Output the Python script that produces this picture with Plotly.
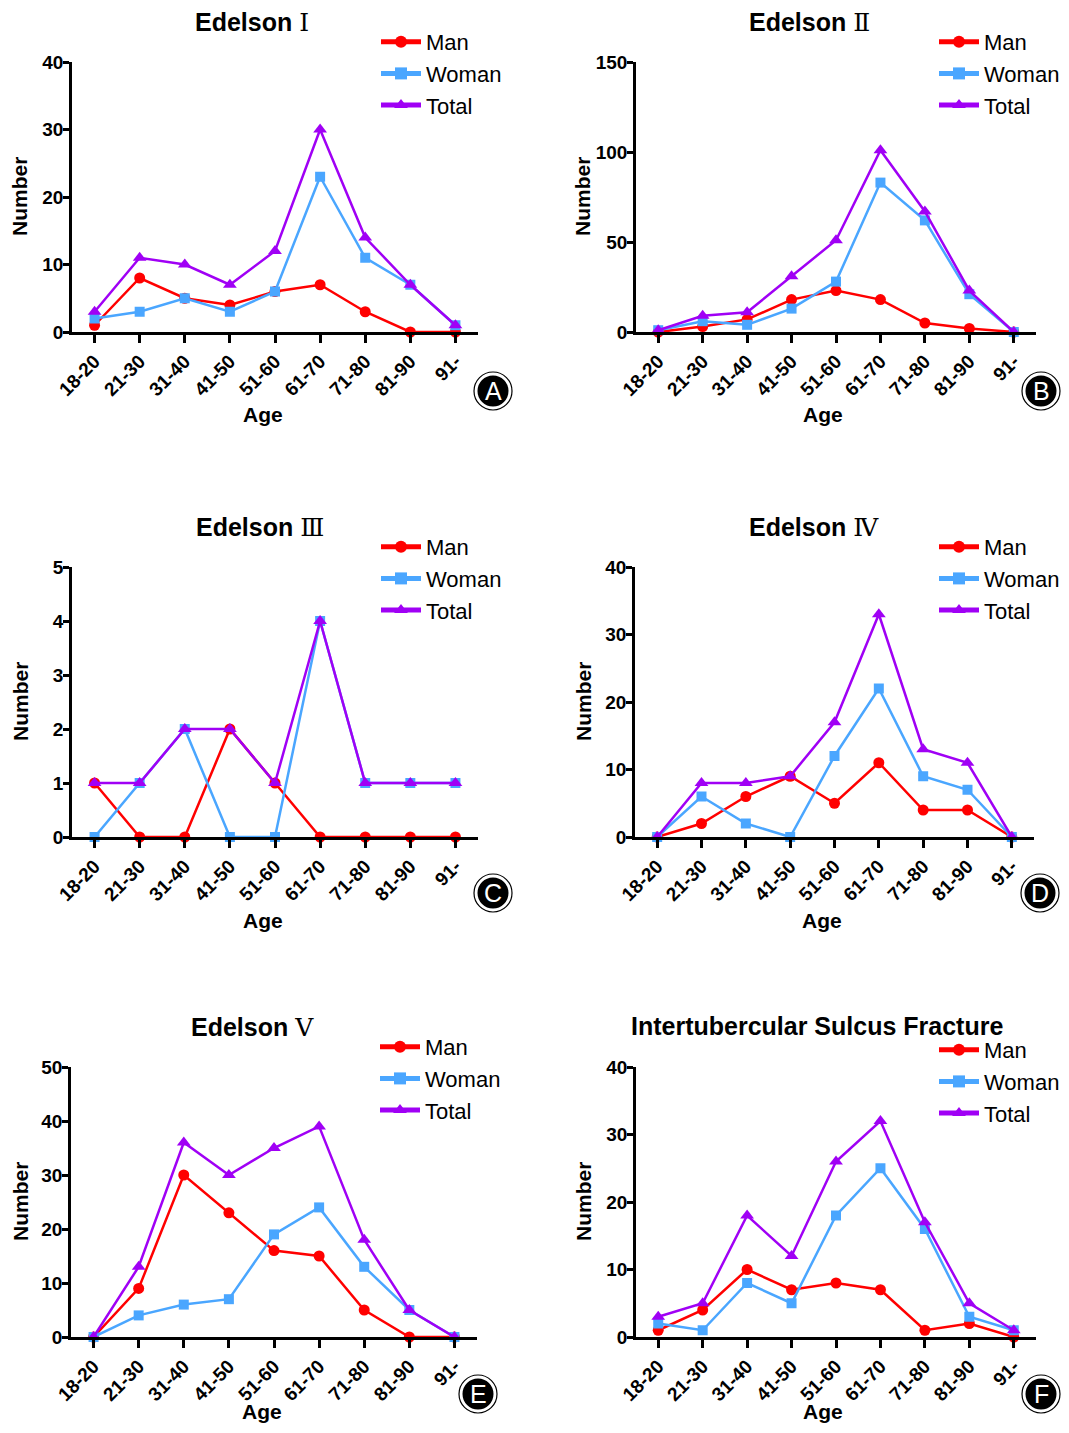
import plotly.graph_objects as go

OFF = 8  # page body margin in the rendered page
W, H = 1069 - 2 * OFF, 1433 - 2 * OFF

ages = ["18-20", "21-30", "31-40", "41-50", "51-60", "61-70", "71-80", "81-90", "91-"]

# Panel A: Edelson I
a_man = [1, 8, 5, 4, 6, 7, 3, 0, 0]
a_woman = [2, 3, 5, 3, 6, 23, 11, 7, 1]
a_total = [3, 11, 10, 7, 12, 30, 14, 7, 1]
# Panel B: Edelson II
b_man = [0, 3, 7, 18, 23, 18, 5, 2, 0]
b_woman = [1, 6, 4, 13, 28, 83, 62, 21, 0]
b_total = [1, 9, 11, 31, 51, 101, 67, 23, 0]
# Panel C: Edelson III
c_man = [1, 0, 0, 2, 1, 0, 0, 0, 0]
c_woman = [0, 1, 2, 0, 0, 4, 1, 1, 1]
c_total = [1, 1, 2, 2, 1, 4, 1, 1, 1]
# Panel D: Edelson IV
d_man = [0, 2, 6, 9, 5, 11, 4, 4, 0]
d_woman = [0, 6, 2, 0, 12, 22, 9, 7, 0]
d_total = [0, 8, 8, 9, 17, 33, 13, 11, 0]
# Panel E: Edelson V
e_man = [0, 9, 30, 23, 16, 15, 5, 0, 0]
e_woman = [0, 4, 6, 7, 19, 24, 13, 5, 0]
e_total = [0, 13, 36, 30, 35, 39, 18, 5, 0]
# Panel F: Intertubercular Sulcus Fracture
f_man = [1, 4, 10, 7, 8, 7, 1, 2, 0]
f_woman = [2, 1, 8, 5, 18, 25, 16, 3, 1]
f_total = [3, 5, 18, 12, 26, 32, 17, 5, 1]

numeral_style = "font-family:'DejaVu Serif','Liberation Serif',serif;font-weight:normal"
numerals = ["Ⅰ", "Ⅱ", "Ⅲ", "Ⅳ", "Ⅴ"]
titles = ["<b>Edelson</b> <span style=\"%s\">%s</span>" % (numeral_style, n) for n in numerals]
titles.append("<b>Intertubercular Sulcus Fracture</b>")
ymax = [40, 150, 5, 40, 50, 40]
ydtick = [10, 50, 1, 10, 10, 10]
letters = ["A", "B", "C", "D", "E", "F"]
panels = [
    (a_man, a_woman, a_total),
    (b_man, b_woman, b_total),
    (c_man, c_woman, c_total),
    (d_man, d_woman, d_total),
    (e_man, e_woman, e_total),
    (f_man, f_woman, f_total),
]

# layout geometry in screen pixels (x0, x1, ytop, ybottom)
boxes = [
    (72, 478, 62, 332),
    (636, 1036, 62, 332),
    (72, 478, 567, 837),
    (635, 1034, 567, 837),
    (71, 477, 1067, 1337),
    (636, 1036, 1067, 1337),
]
title_pos = [(252, 22), (809, 22), (260, 527), (814, 527), (252, 1027), (817, 1026)]
age_pos = [(263, 414), (823, 414), (263, 920), (822, 920), (262, 1411), (823, 1411)]
num_pos = [(20, 197), (583, 197), (20, 702), (583, 702), (20, 1202), (583, 1202)]
badge_pos = [(493, 391), (1041, 391), (493, 893), (1040, 893), (478, 1394), (1041, 1394)]
legend_pos = [(376, 21), (934, 21), (376, 526), (934, 526), (375, 1026), (934, 1029)]

RED = "#FF0000"
BLUE = "#4AA6FF"
PURPLE = "#A000F5"
FONT = "Liberation Sans, Arial, sans-serif"


def px(x):
    return (x - OFF) / W


def py(y):
    return 1 - (y - OFF) / H


fig = go.Figure()
layout = dict(
    width=W, height=H,
    margin=dict(l=0, r=0, t=0, b=0, autoexpand=False),
    paper_bgcolor="white", plot_bgcolor="white",
    font=dict(family=FONT, color="black"),
    showlegend=True,
)
annotations = []
shapes = []

for i, (man, woman, total) in enumerate(panels):
    k = i + 1
    xa = "x" if k == 1 else "x%d" % k
    ya = "y" if k == 1 else "y%d" % k
    lg = "legend" if k == 1 else "legend%d" % k
    series = [
        ("Man", man, RED, "circle", 11),
        ("Woman", woman, BLUE, "square", 10),
        ("Total", total, PURPLE, "triangle-up", 12),
    ]
    for name, vals, col, sym, sz in series:
        fig.add_trace(go.Scatter(
            x=ages, y=vals, name=name, mode="lines+markers",
            line=dict(color=col, width=2.5),
            marker=dict(color=col, symbol=sym, size=sz),
            xaxis=xa, yaxis=ya, legend=lg, cliponaxis=False,
        ))
    x0, x1, yt, yb = boxes[i]
    xkey = "xaxis" if k == 1 else "xaxis%d" % k
    ykey = "yaxis" if k == 1 else "yaxis%d" % k
    layout[xkey] = dict(
        domain=[px(x0), px(x1)], anchor=ya,
        type="category", range=[-0.5, 8.5],
        showline=True, linecolor="black", linewidth=2.5,
        ticks="outside", ticklen=8, tickwidth=2.5, tickcolor="black",
        tickangle=-45, showgrid=False, zeroline=False,
        tickfont=dict(family=FONT, size=19, weight="bold", color="black"),
    )
    layout[ykey] = dict(
        domain=[py(yb), py(yt)], anchor=xa,
        range=[0, ymax[i]], dtick=ydtick[i], tick0=0,
        showline=True, linecolor="black", linewidth=2.5,
        ticks="outside", ticklen=6, tickwidth=2.5, tickcolor="black",
        showgrid=False, zeroline=False, ticklabelstandoff=-4,
        tickfont=dict(family=FONT, size=19, weight="bold", color="black"),
    )
    lx, ly = legend_pos[i]
    layout[lg] = dict(
        xref="container", yref="container",
        x=px(lx), y=py(ly), xanchor="left", yanchor="top",
        bgcolor="rgba(0,0,0,0)", borderwidth=0,
        font=dict(family=FONT, size=22, color="black"),
        tracegroupgap=0, itemsizing="constant", itemwidth=40,
    )
    tx, ty = title_pos[i]
    annotations.append(dict(
        text=titles[i],
        x=px(tx), y=py(ty), xref="paper", yref="paper",
        xanchor="center", yanchor="middle", showarrow=False,
        font=dict(family=FONT, size=25, color="black"),
    ))
    ax_, ay_ = age_pos[i]
    annotations.append(dict(
        text="<b>Age</b>", x=px(ax_), y=py(ay_), xref="paper", yref="paper",
        xanchor="center", yanchor="middle", showarrow=False,
        font=dict(family=FONT, size=21, color="black"),
    ))
    nx, ny = num_pos[i]
    annotations.append(dict(
        text="<b>Number</b>", x=px(nx), y=py(ny), xref="paper", yref="paper",
        xanchor="center", yanchor="middle", showarrow=False, textangle=-90,
        font=dict(family=FONT, size=21, color="black"),
    ))
    bx, by = badge_pos[i]
    for r, fill, lc, lw in [(19, "white", "black", 1.2), (15.5, "black", "black", 0)]:
        shapes.append(dict(
            type="circle", xref="paper", yref="paper",
            x0=px(bx - r), x1=px(bx + r), y0=py(by + r), y1=py(by - r),
            fillcolor=fill, line=dict(color=lc, width=lw), layer="above",
        ))
    annotations.append(dict(
        text=letters[i], x=px(bx), y=py(by), xref="paper", yref="paper",
        xanchor="center", yanchor="middle", showarrow=False,
        font=dict(family=FONT, size=25, color="white"),
    ))

layout["annotations"] = annotations
layout["shapes"] = shapes
fig.update_layout(**layout)
fig.write_html("out.html")
